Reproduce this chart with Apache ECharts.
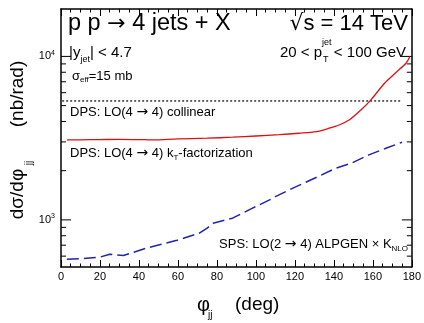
<!DOCTYPE html>
<html><head><meta charset="utf-8">
<script src="https://cdn.jsdelivr.net/npm/echarts@6/dist/echarts.min.js"></script>
<style>html,body{margin:0;padding:0;background:#fff}#c{width:424px;height:323px}</style>
</head><body><div id="c"></div>
<script>
// Data
const phiColl = [0.6, 175];
const sigmaColl = [5340, 5340];

const phiRed = [3, 10, 20, 30, 40, 47, 60, 75, 88, 100, 112, 122, 131, 137, 143, 148, 154, 159, 166, 172, 177, 179];
const sigmaRed = [3086, 3090, 3100, 3110, 3100, 3086, 3130, 3160, 3206, 3260, 3320, 3388, 3467, 3620, 3820, 4094, 4711, 5420, 6855, 8000, 9079, 9990];

const phiBlue = [3, 10, 20, 25, 32, 42, 49, 59, 71, 75, 78, 88, 98, 107, 110, 119, 132, 141, 149, 158, 167, 175];
const sigmaBlue = [575, 578, 592, 617, 605, 662, 697, 747, 829, 890, 954, 1024, 1176, 1325, 1389, 1564, 1841, 2072, 2222, 2500, 2750, 2986];

const xTicks = [0, 20, 40, 60, 80, 100, 120, 140, 160, 180];
const yMajorTicks = [1000, 10000];
const yMinorTicks = [600, 700, 800, 900, 2000, 3000, 4000, 5000, 6000, 7000, 8000, 9000];

const FONT = "'Liberation Sans', Arial, Helvetica, sans-serif";
const SYM = "'DejaVu Sans', sans-serif";
const RED = '#dd1111';
const BLUE = '#2222aa';

const zip = (a, b) => a.map((v, i) => [v, b[i]]);
const yTickData = yMajorTicks.map(v => [0, v, 10]).concat(yMinorTicks.map(v => [0, v, 5]));

const chart = echarts.init(document.getElementById('c'), null, {renderer: 'canvas'});

const xAxisBase = {
  type: 'value', min: 0, max: 180, interval: 20,
  axisLine: {show: true, onZero: false, lineStyle: {color: '#000', width: 1.5}},
  axisTick: {show: true, inside: true, length: 7, lineStyle: {color: '#000', width: 1}},
  minorTick: {show: true, splitNumber: 4, length: 3.5, lineStyle: {color: '#000', width: 1}},
  splitLine: {show: false}
};
const yAxisBase = {
  type: 'log', logBase: 10, min: 515, max: 19500,
  axisLine: {show: true, onZero: false, lineStyle: {color: '#000', width: 1.5}},
  axisTick: {show: false},
  splitLine: {show: false}
};

function lab(color, size, subSize, subPad) {
  return {
    m: {fontSize: size, fontFamily: FONT, color: color},
    a: {fontSize: size + 1, fontFamily: SYM, color: color},
    s: {fontSize: subSize, fontFamily: FONT, color: color, padding: [subPad, 0, 0, 0]}
  };
}

const option = {
  animation: false,
  backgroundColor: '#fff',
  grid: {left: 61, right: 10.5, top: 9, bottom: 56, containLabel: false},
  xAxis: [
    Object.assign({}, xAxisBase, {position: 'bottom',
      axisLabel: {show: true, fontSize: 11, color: '#000', fontFamily: FONT, margin: 4,
        formatter: v => xTicks.includes(v) ? String(v) : ''}}),
    Object.assign({}, xAxisBase, {position: 'top', axisLabel: {show: false}})
  ],
  yAxis: [
    Object.assign({}, yAxisBase, {position: 'left',
      axisLabel: {show: true, showMinLabel: false, showMaxLabel: false, margin: 6, color: '#000', fontFamily: FONT,
        formatter: v => {
          const l = Math.round(Math.log10(v) * 1000) / 1000;
          return (l === 3 || l === 4) ? '{b|10}{s|' + l + '}' : '';
        },
        rich: {b: {fontSize: 11, fontFamily: FONT, color: '#000'},
               s: {fontSize: 7, fontFamily: FONT, color: '#000', padding: [0, 0, 7, 0]}}}}),
    Object.assign({}, yAxisBase, {position: 'right', axisLabel: {show: false}})
  ],
  series: [
    {type: 'line', data: zip(phiColl, sigmaColl), showSymbol: false, symbol: 'none',
     lineStyle: {color: '#000', width: 1.2, type: [2, 2]}},
    {type: 'line', data: zip(phiRed, sigmaRed), showSymbol: false, symbol: 'none', smooth: 0.3,
     lineStyle: {color: RED, width: 1.3}},
    {type: 'line', data: zip(phiBlue, sigmaBlue), showSymbol: false, symbol: 'none',
     lineStyle: {color: BLUE, width: 1.5, type: [12, 5]}},
    {type: 'custom', coordinateSystem: 'cartesian2d', data: yTickData, encode: {x: 0, y: 1}, clip: false, silent: true,
     renderItem: (params, api) => {
       const v = api.value(1), len = api.value(2);
       const pl = api.coord([0, v]);
       const pr = api.coord([180, v]);
       const st = {stroke: '#000', lineWidth: 1};
       return {type: 'group', children: [
         {type: 'line', shape: {x1: pl[0], y1: pl[1], x2: pl[0] + len, y2: pl[1]}, style: st},
         {type: 'line', shape: {x1: pr[0] - len, y1: pr[1], x2: pr[0], y2: pr[1]}, style: st}
       ]};
     }}
  ],
  graphic: [
    {type: 'text', x: 68, y: 24, style: {text: '{m|p p }{a|\u2192}{m| 4 jets + X}', textAlign: 'left', textVerticalAlign: 'middle',
      rich: {m: {fontSize: 23.5, fontFamily: FONT, color: '#000'}, a: {fontSize: 22, fontFamily: SYM, color: '#000'}}}},
    {type: 'text', x: 408, y: 24, style: {text: '{r|\u221A}{m|s = 14 TeV}', textAlign: 'right', textVerticalAlign: 'middle',
      rich: {m: {fontSize: 22, fontFamily: FONT, color: '#000'}, r: {fontSize: 22, fontFamily: SYM, color: '#000'}}}},
    {type: 'text', x: 69, y: 53, style: {text: '{m||y}{s|jet}{m|| < 4.7}', textAlign: 'left', textVerticalAlign: 'middle',
      rich: {m: {fontSize: 15, fontFamily: FONT, color: '#000'}, s: {fontSize: 9, fontFamily: FONT, color: '#000', padding: [14, 0, 0, 0]}}}},
    {type: 'text', x: 72, y: 76, style: {text: '{m|\u03C3}{s|eff}{m|=15 mb}', textAlign: 'left', textVerticalAlign: 'middle',
      rich: {m: {fontSize: 13, fontFamily: FONT, color: '#000'}, s: {fontSize: 8, fontFamily: FONT, color: '#000', padding: [8, 0, 0, 0]}}}},
    {type: 'text', x: 322, y: 53, style: {text: '20 < p', font: '15px ' + FONT, fill: '#000', textAlign: 'right', textVerticalAlign: 'middle'}},
    {type: 'text', x: 323, y: 60, style: {text: 'T', font: '9px ' + FONT, fill: '#000', textAlign: 'left', textVerticalAlign: 'middle'}},
    {type: 'text', x: 322, y: 43, style: {text: 'jet', font: '9px ' + FONT, fill: '#000', textAlign: 'left', textVerticalAlign: 'middle'}},
    {type: 'text', x: 406, y: 53, style: {text: '< 100 GeV', font: '15px ' + FONT, fill: '#000', textAlign: 'right', textVerticalAlign: 'middle'}},
    {type: 'text', x: 70, y: 112, style: {text: '{m|DPS: LO(4 }{a|\u2192}{m| 4) collinear}', textAlign: 'left', textVerticalAlign: 'middle',
      rich: lab('#000', 13, 8, 10)}},
    {type: 'text', x: 70, y: 153, style: {text: '{m|DPS: LO(4 }{a|\u2192}{m| 4) k}{s|T}{m|-factorization}', textAlign: 'left', textVerticalAlign: 'middle',
      rich: lab(RED, 13, 8, 10)}},
    {type: 'text', x: 408, y: 244, style: {text: '{m|SPS: LO(2 }{a|\u2192}{m| 4) ALPGEN \u00D7 K}{s|NLO}', textAlign: 'right', textVerticalAlign: 'middle',
      rich: lab(BLUE, 13, 8, 10)}},
    {type: 'text', x: 197, y: 305, style: {text: '\u03C6', font: '20px ' + FONT, fill: '#000', textAlign: 'left', textVerticalAlign: 'middle'}},
    {type: 'text', x: 208, y: 315, style: {text: 'jj', font: '10px ' + FONT, fill: '#000', textAlign: 'left', textVerticalAlign: 'middle'}},
    {type: 'text', x: 235, y: 305, style: {text: '(deg)', font: '19px ' + FONT, fill: '#000', textAlign: 'left', textVerticalAlign: 'middle'}},
    {type: 'text', x: 18, y: 94, rotation: Math.PI / 2, style: {text: '(nb/rad)', font: '19px ' + FONT, fill: '#000', textAlign: 'center', textVerticalAlign: 'middle'}},
    {type: 'text', x: 18, y: 194, rotation: Math.PI / 2, style: {text: 'd\u03C3/d\u03C6', font: '19px ' + FONT, fill: '#000', textAlign: 'center', textVerticalAlign: 'middle'}},
    {type: 'text', x: 29, y: 163, rotation: Math.PI / 2, style: {text: 'jj', font: '10px ' + FONT, fill: '#000', textAlign: 'center', textVerticalAlign: 'middle'}}
  ]
};
chart.setOption(option);
</script>
</body></html>
